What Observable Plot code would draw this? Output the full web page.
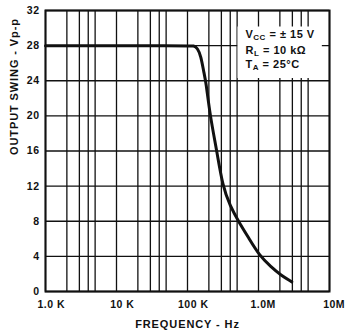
<!DOCTYPE html>
<html><head><meta charset="utf-8">
<script src="https://cdn.jsdelivr.net/npm/d3@7"></script>
<script src="https://cdn.jsdelivr.net/npm/@observablehq/plot@0.6"></script>
<style>
html,body{margin:0;padding:0;background:#fff;}
#chart svg{display:block;}
</style></head><body><div id="chart"></div>
<script>
// Curve data (frequency in Hz, output swing in Vp-p)
const freqHz   = [1000, 100000, 124000, 138000, 154000, 172000, 181000, 208000, 259000, 312000, 400000, 521000, 740000, 1030000, 1500000, 2070000, 2950000];
const swingVpp = [28,   28,     28,     27.7,   26.9,   24.7,   24,     20,     16,     12,     9.7,    8,      6,      4.1,     2.8,     1.85,    1.1];

// Grid / tick values
const xGrid = [1e3,2e3,3e3,4e3,5e3, 1e4,2e4,3e4,4e4,5e4, 1e5,2e5,3e5,4e5,5e5, 1e6,2e6,3e6,4e6,5e6, 1e7];
const xTickValues = [1e3, 1e4, 1e5, 1e6, 1e7];
const xTickNums   = ["1.0", "10", "100", "1.0", "10"];
const xTickUnits  = ["\u00a0K", "\u00a0K", "\u00a0K", "M", "M"];
const yTicks = [0, 4, 8, 12, 16, 20, 24, 28, 32];

const xTitle = "FREQUENCY - Hz";
const yTitle = "OUTPUT SWING - Vp-p";
// Conditions box: [main, subscript, rest]
const conditions = [["V", "CC", " = \u00b1 15 V"], ["R", "L", " = 10 k\u03a9"], ["T", "A", " = 25\u00b0C"]];
const condStrings = conditions.map(c => c.join(""));

const data = freqHz.map((f, i) => ({f, v: swingVpp[i]}));
const tickTxt = xTickValues.map((f, i) => ({f, num: xTickNums[i], unit: xTickUnits[i]}));

const ink = "#111";
const condLineDy = [27, 43, 57];
const svg = Plot.plot({
  width: 346, height: 330,
  marginLeft: 45, marginRight: 17, marginTop: 10, marginBottom: 39,
  style: {fontFamily: "'Liberation Sans', Arial, sans-serif", fontWeight: "bold", fontSize: "10.5px", color: ink, background: "#fff"},
  x: {type: "log", domain: [1e3, 1e7], axis: null},
  y: {domain: [0, 32]},
  marks: [
    Plot.ruleX(xGrid, {stroke: ink, strokeWidth: 1.3}),
    Plot.ruleY(yTicks, {stroke: ink, strokeWidth: 1.3}),
    Plot.frame({stroke: ink, strokeWidth: 2}),
    Plot.line(data, {x: "f", y: "v", stroke: ink, strokeWidth: 3, curve: "basis"}),
    Plot.axisY(yTicks, {tickSize: 0, tickPadding: 6, label: null, fontSize: 10.5}),
    Plot.text(tickTxt, {x: "f", text: "num", frameAnchor: "bottom", lineAnchor: "bottom", dy: 16, textAnchor: "middle"}),
    Plot.text(tickTxt, {x: "f", text: "unit", frameAnchor: "bottom", lineAnchor: "bottom", dy: 16, textAnchor: "start"}),
    Plot.text([xTitle], {frameAnchor: "bottom", lineAnchor: "bottom", dy: 36, fontSize: 11}),
    Plot.text([yTitle], {frameAnchor: "left", rotate: -90, dx: -31, dy: 4, lineAnchor: "middle", fontSize: 11}),
    ...condStrings.map((s, i) => Plot.text([s], {frameAnchor: "top-right", textAnchor: "start", lineAnchor: "bottom", dx: -84, dy: condLineDy[i], fontSize: 11}))
  ]
});
document.getElementById("chart").appendChild(svg);

const root = d3.select(svg);
root.selectAll("text").style("letter-spacing", function(){
  return (this.textContent === xTitle || this.textContent === yTitle) ? "0.9px" : "0.5px";
});

// center the numeric part of x tick labels on the tick, units trailing
const numEls = root.selectAll("text").filter(function(){ return xTickNums.includes(this.textContent); }).nodes();
const unitEls = root.selectAll("text").filter(function(){ return xTickUnits.includes(this.textContent); }).nodes();
unitEls.forEach((u, i) => {
  const n = numEls[i];
  if (n) u.setAttribute("dx", n.getComputedTextLength() / 2);
});

// subscripts in the conditions box and white background behind it
const condEls = root.selectAll("text").filter(function(){ return condStrings.includes(this.textContent); });
condEls.each(function(){
  const c = conditions[condStrings.indexOf(this.textContent)];
  const t = d3.select(this);
  t.text(null);
  t.append("tspan").text(c[0]);
  t.append("tspan").attr("font-size", "8px").attr("dy", 2.5).text(c[1]);
  t.append("tspan").attr("dy", -2.5).text(c[2]);
});
let x0 = Infinity, y0 = Infinity, x1 = -Infinity, y1 = -Infinity;
const groups = condEls.nodes().map(n => n.parentNode);
groups.forEach(gn => {
  const b = gn.getBBox();
  const m = gn.transform.baseVal.consolidate();
  const tx = m ? m.matrix.e : 0, ty = m ? m.matrix.f : 0;
  x0 = Math.min(x0, b.x + tx); y0 = Math.min(y0, b.y + ty);
  x1 = Math.max(x1, b.x + b.width + tx); y1 = Math.max(y1, b.y + b.height + ty);
});
const bgRect = document.createElementNS("http://www.w3.org/2000/svg", "rect");
bgRect.setAttribute("x", x0 - 8); bgRect.setAttribute("y", y0 - 1);
bgRect.setAttribute("width", x1 - x0 + 15); bgRect.setAttribute("height", y1 - y0 + 7);
bgRect.setAttribute("fill", "#fff");
svg.insertBefore(bgRect, groups[0]);
</script>
</body></html>
